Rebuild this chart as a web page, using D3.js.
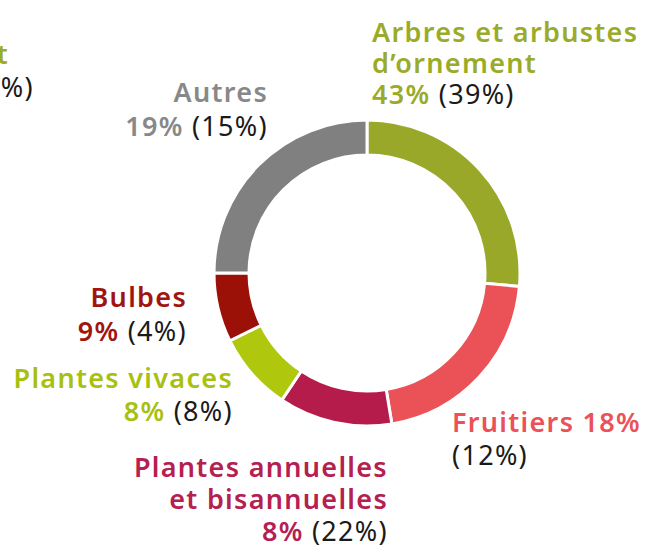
<!DOCTYPE html>
<html>
<head>
<meta charset="utf-8">
<script src="https://cdn.jsdelivr.net/npm/d3@7"></script>
<style>
  html, body { margin: 0; padding: 0; background: #fff; overflow: hidden; }
  text { font-family: "Noto Sans", "DejaVu Sans", sans-serif; letter-spacing: 1.3px; }
</style>
</head>
<body>
<div id="chart"></div>
<script>
// slices, read clockwise from 12 o'clock
const categories = [
  "Arbres et arbustes d\u2019ornement",
  "Fruitiers",
  "Plantes annuelles et bisannuelles",
  "Plantes vivaces",
  "Bulbes",
  "Autres"
];
const sliceValues = [26.4, 21, 12, 8.3, 7.3, 25];
const shareLabels = ["43%", "18%", "8%", "8%", "9%", "19%"];
const priorLabels = ["(39%)", "(12%)", "(22%)", "(8%)", "(4%)", "(15%)"];
const sliceColors = ["#9aa829", "#ea5258", "#b51c4c", "#afc80d", "#9c1107", "#808080"];
const textColors = ["#9aab2a", "#ea5258", "#b52050", "#a8c010", "#a01510", "#888888"];

// label that is cut off at the left edge of the picture
const hiddenLabel = ["Semences et gazon vert", "5% (3%)"];

const width = 651;
const height = 548;

const svg = d3
  .select("#chart")
  .append("svg")
  .attr("width", width)
  .attr("height", height);

const cx = 367;
const cy = 273;

const pie = d3.pie().sort(null).value((d) => d);
const arc = d3.arc().innerRadius(118).outerRadius(153);

svg
  .append("g")
  .attr("transform", `translate(${cx}, ${cy})`)
  .selectAll("path")
  .data(pie(sliceValues))
  .enter()
  .append("path")
  .attr("d", arc)
  .attr("fill", (d, i) => sliceColors[i])
  .attr("stroke", "#fff")
  .attr("stroke-width", 3);

// label layout: x, anchor, baselines, how the name is split
const labelLayout = [
  { x: 372, anchor: "start", y: [42, 73, 104], lines: ["Arbres et arbustes", "d\u2019ornement"], inline: false },
  { x: 452, anchor: "start", y: [432, 465], lines: ["Fruitiers"], inline: true },
  { x: 388, anchor: "end", y: [477, 509, 541], lines: ["Plantes annuelles", "et bisannuelles"], inline: false },
  { x: 233, anchor: "end", y: [388, 421], lines: ["Plantes vivaces"], inline: false },
  { x: 187, anchor: "end", y: [307, 341], lines: ["Bulbes"], inline: false },
  { x: 268, anchor: "end", y: [102, 136], lines: ["Autres"], inline: false }
];

const fontSize = 27;

labelLayout.forEach((lay, i) => {
  const t = svg
    .append("text")
    .attr("text-anchor", lay.anchor)
    .attr("font-size", fontSize);

  lay.lines.forEach((line, j) => {
    const span = t
      .append("tspan")
      .attr("x", lay.x)
      .attr("y", lay.y[j])
      .attr("fill", textColors[i])
      .attr("font-weight", 600)
      .text(line);
    if (lay.inline && j === lay.lines.length - 1) {
      span.text(line + " " + shareLabels[i]);
    }
  });

  const last = lay.y[lay.y.length - 1];
  if (lay.inline) {
    t.append("tspan")
      .attr("x", lay.x)
      .attr("y", last)
      .attr("fill", "#1a1a1a")
      .attr("font-weight", 400)
      .text(priorLabels[i]);
  } else {
    t.append("tspan")
      .attr("x", lay.x)
      .attr("y", last)
      .attr("fill", textColors[i])
      .attr("font-weight", 600)
      .text(shareLabels[i]);
    t.append("tspan")
      .attr("fill", "#1a1a1a")
      .attr("font-weight", 400)
      .text(" " + priorLabels[i]);
  }
});

const cut = svg
  .append("text")
  .attr("text-anchor", "end")
  .attr("font-size", fontSize);
cut
  .append("tspan")
  .attr("x", 9)
  .attr("y", 64)
  .attr("fill", textColors[0])
  .attr("font-weight", 600)
  .text(hiddenLabel[0]);
cut
  .append("tspan")
  .attr("x", 34)
  .attr("y", 97)
  .attr("fill", "#1a1a1a")
  .attr("font-weight", 400)
  .text(hiddenLabel[1]);
</script>
</body>
</html>
